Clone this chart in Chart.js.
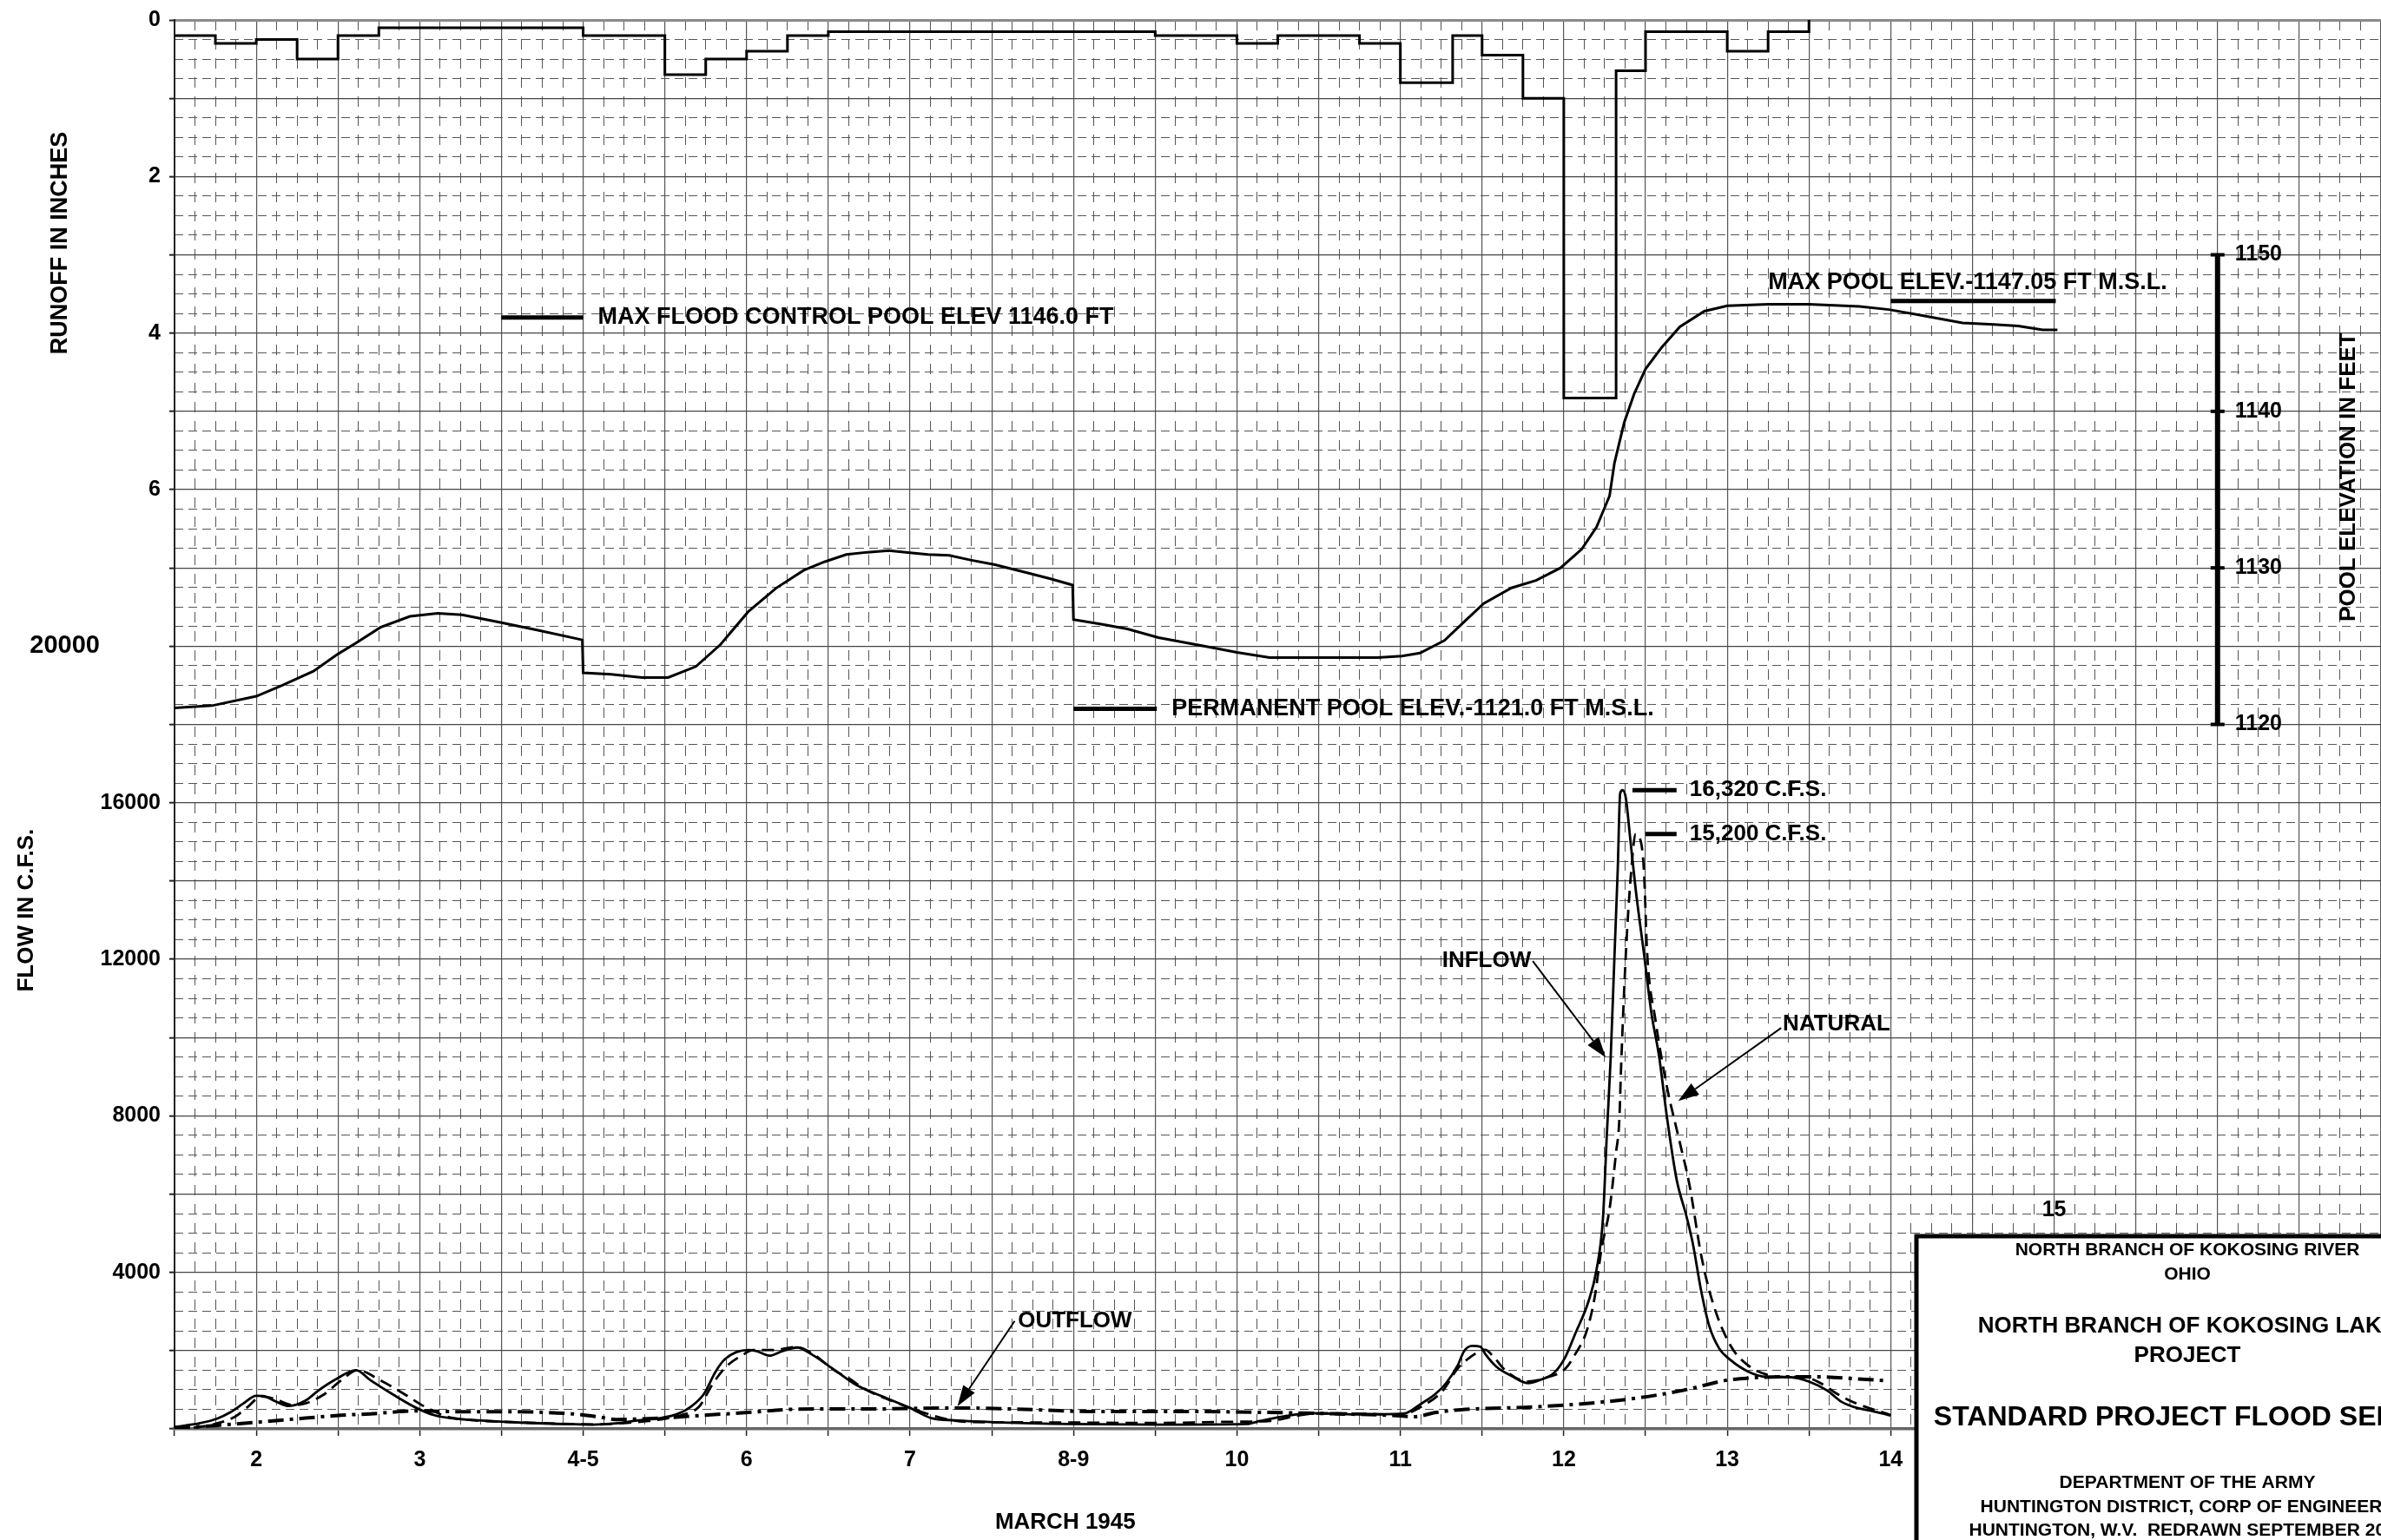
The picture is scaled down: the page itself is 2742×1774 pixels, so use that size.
<!DOCTYPE html>
<html>
<head>
<meta charset="utf-8">
<script src="https://cdn.jsdelivr.net/npm/chart.js@4.4.0/dist/chart.umd.min.js"></script>
<style>
  html, body { margin: 0; padding: 0; background: #fff; }
  canvas { display: block; }
</style>
</head>
<body>
<canvas id="grafico" width="2742" height="1774"></canvas>
<script>
const FUENTE = '"Liberation Sans", Arial, sans-serif';

// Eje x: dias de marzo 1945 (un indice por etiqueta)
const dias = ['2', '3', '4-5', '6', '7', '8-9', '10', '11', '12', '13', '14'];
const diaExtra = '15';

// Etiquetas del eje izquierdo (escorrentia arriba, caudal abajo)
const etiquetasEscorrentia = [0, 2, 4, 6];
const etiquetasFlujo = [20000, 16000, 12000, 8000, 4000];
const cotasEmbalse = [1120, 1130, 1140, 1150];

// Escorrentia en pulgadas (escalonada, cada valor vale hasta el siguiente x)
const escorrentiaX = [-0.5, -0.25, 0, 0.25, 0.5, 0.75, 2.0, 2.5, 2.75, 3.0, 3.25, 3.5, 5.5, 6.0, 6.25, 6.75, 7.0, 7.32, 7.5, 7.75, 8.0, 8.32, 8.5, 9.0, 9.25, 9.5];
const escorrentiaY = [0.2, 0.3, 0.25, 0.5, 0.2, 0.1, 0.2, 0.7, 0.5, 0.4, 0.2, 0.15, 0.2, 0.3, 0.2, 0.3, 0.8, 0.2, 0.45, 1.0, 4.83, 0.65, 0.15, 0.4, 0.15, 0];

// Elevacion del embalse (pies)
const embalseX = [-0.5, -0.27, 0.0, 0.16, 0.35, 0.5, 0.61, 0.76, 0.94, 1.11, 1.26, 1.5, 1.73, 1.995, 2.0, 2.17, 2.36, 2.52, 2.69, 2.84, 3.01, 3.18, 3.35, 3.48, 3.61, 3.74, 3.87, 4.0, 4.11, 4.24, 4.37, 4.52, 4.71, 4.86, 4.995, 5.0, 5.17, 5.33, 5.52, 5.82, 6.0, 6.2, 6.45, 6.86, 7.01, 7.12, 7.27, 7.38, 7.51, 7.68, 7.83, 7.98, 8.11, 8.2, 8.28, 8.31, 8.37, 8.43, 8.5, 8.6, 8.71, 8.86, 9.0, 9.25, 9.5, 9.81, 9.99, 10.18, 10.44, 10.63, 10.78, 10.93, 11.02];
const embalseY = [1121.05, 1121.2, 1121.8, 1122.5, 1123.4, 1124.5, 1125.2, 1126.2, 1126.9, 1127.1, 1127.0, 1126.5, 1126.0, 1125.4, 1123.3, 1123.2, 1123.0, 1123.0, 1123.7, 1125.1, 1127.2, 1128.7, 1129.85, 1130.4, 1130.85, 1131.0, 1131.1, 1130.96, 1130.85, 1130.8, 1130.5, 1130.2, 1129.7, 1129.3, 1128.9, 1126.7, 1126.4, 1126.1, 1125.55, 1124.96, 1124.6, 1124.27, 1124.27, 1124.27, 1124.37, 1124.56, 1125.36, 1126.45, 1127.73, 1128.72, 1129.2, 1130.0, 1131.2, 1132.6, 1134.6, 1136.7, 1139.3, 1141.1, 1142.7, 1144.1, 1145.4, 1146.4, 1146.74, 1146.84, 1146.84, 1146.7, 1146.5, 1146.15, 1145.65, 1145.55, 1145.45, 1145.2, 1145.2];

// Caudal de entrada (c.f.s.)
const entradaX = [-0.5, -0.35, -0.24, -0.16, -0.08, 0.0, 0.04, 0.12, 0.2, 0.3, 0.38, 0.49, 0.61, 0.7, 0.84, 0.98, 1.09, 1.19, 1.38, 1.65, 1.93, 2.06, 2.2, 2.33, 2.47, 2.58, 2.66, 2.74, 2.81, 2.87, 3.01, 3.06, 3.14, 3.22, 3.31, 3.4, 3.54, 3.67, 3.83, 4.0, 4.13, 4.27, 4.56, 4.97, 5.51, 6.06, 6.14, 6.27, 6.46, 6.73, 7.02, 7.13, 7.21, 7.28, 7.35, 7.39, 7.44, 7.49, 7.52, 7.59, 7.68, 7.78, 7.85, 7.94, 8.01, 8.07, 8.15, 8.2, 8.24, 8.263, 8.287, 8.31, 8.33, 8.345, 8.36, 8.38, 8.405, 8.44, 8.49, 8.536, 8.583, 8.63, 8.69, 8.75, 8.79, 8.84, 8.89, 8.95, 9.02, 9.13, 9.24, 9.39, 9.5, 9.61, 9.7, 9.79, 9.88, 10.0];
const entradaY = [50, 140, 260, 420, 645, 845, 840, 700, 585, 720, 980, 1275, 1500, 1240, 870, 535, 350, 275, 215, 155, 120, 110, 140, 215, 275, 385, 570, 900, 1460, 1790, 2015, 1990, 1870, 1990, 2080, 1900, 1500, 1125, 830, 535, 275, 220, 165, 125, 110, 125, 200, 310, 400, 370, 390, 650, 875, 1170, 1615, 1985, 2120, 2100, 1910, 1580, 1355, 1170, 1245, 1430, 1840, 2430, 3245, 4060, 5400, 7490, 9490, 12075, 14290, 16240, 16320, 16110, 15140, 13780, 12160, 10630, 9520, 8000, 6380, 5440, 4725, 3540, 2630, 2060, 1760, 1460, 1330, 1320, 1210, 985, 690, 540, 465, 340];

// Caudal natural (c.f.s.)
const naturalX = [-0.5, -0.35, -0.24, -0.13, -0.05, 0.03, 0.11, 0.22, 0.3, 0.41, 0.52, 0.62, 0.76, 0.9, 1.03, 1.17, 1.3, 1.6, 1.93, 2.1, 2.25, 2.4, 2.5, 2.6, 2.71, 2.79, 2.87, 2.98, 3.04, 3.17, 3.3, 3.41, 3.48, 3.55, 3.62, 3.71, 3.78, 3.91, 4.08, 4.24, 4.35, 4.84, 5.51, 5.92, 6.19, 6.41, 6.6, 7.0, 7.15, 7.26, 7.35, 7.43, 7.52, 7.57, 7.65, 7.78, 7.9, 8.01, 8.07, 8.14, 8.19, 8.23, 8.28, 8.32, 8.34, 8.35, 8.38, 8.41, 8.44, 8.46, 8.49, 8.51, 8.56, 8.63, 8.7, 8.77, 8.84, 8.91, 9.02, 9.13, 9.24, 9.35, 9.46, 9.57, 9.68, 9.79, 10.0];
const naturalY = [0, 50, 140, 310, 570, 830, 770, 610, 650, 870, 1240, 1500, 1240, 905, 570, 310, 230, 170, 125, 115, 150, 200, 260, 350, 570, 1130, 1570, 1900, 2015, 2015, 2090, 1905, 1680, 1460, 1310, 1050, 900, 680, 420, 235, 180, 165, 150, 180, 200, 365, 400, 365, 620, 980, 1540, 1840, 2020, 1840, 1465, 1210, 1320, 1540, 1910, 2500, 3390, 4580, 5620, 7070, 7910, 9180, 12160, 14120, 15200, 15140, 14290, 12160, 10470, 8760, 7490, 6210, 4450, 3245, 2130, 1615, 1390, 1330, 1330, 1170, 875, 650, 355];

// Caudal de salida (c.f.s.)
const salidaX = [-0.5, -0.24, 0.03, 0.3, 0.52, 0.7, 0.98, 1.25, 1.52, 1.93, 2.09, 2.2, 2.33, 2.47, 2.74, 3.01, 3.28, 3.55, 3.75, 4.29, 4.7, 5.1, 5.65, 6.19, 6.6, 7.0, 7.08, 7.22, 7.37, 7.81, 8.14, 8.47, 8.73, 9.0, 9.13, 9.35, 9.57, 9.79, 9.97];
const salidaY = [15, 90, 180, 275, 350, 385, 460, 440, 440, 385, 310, 240, 250, 275, 350, 420, 500, 510, 510, 535, 500, 445, 445, 420, 385, 335, 310, 420, 490, 560, 650, 800, 985, 1245, 1300, 1330, 1330, 1280, 1230];

const FLUJO_MAX = 36000;
const pares = (xs, ys) => xs.map((v, i) => ({ x: v, y: ys[i] }));
const esMedio = v => Math.abs(v * 2 - Math.round(v * 2)) < 1e-6;
const fuente = t => `bold ${t}px ${FUENTE}`;

function texto(ctx, str, px, py, tam, alinear = 'left', rot = 0) {
    ctx.save();
    ctx.translate(px, py);
    if (rot) ctx.rotate(rot);
    ctx.font = fuente(tam);
    ctx.textAlign = alinear;
    ctx.textBaseline = 'middle';
    ctx.fillText(str, 0, 0);
    ctx.restore();
}

function trazo(ctx, x1, y1, x2, y2, ancho) {
    ctx.beginPath();
    ctx.moveTo(x1, y1);
    ctx.lineTo(x2, y2);
    ctx.lineWidth = ancho;
    ctx.stroke();
}

function flecha(ctx, x1, y1, x2, y2) {
    const ang = Math.atan2(y2 - y1, x2 - x1);
    const largo = 24, ancho = 8;
    const bx = x2 - largo * Math.cos(ang), by = y2 - largo * Math.sin(ang);
    trazo(ctx, x1, y1, bx, by, 2);
    ctx.beginPath();
    ctx.moveTo(x2, y2);
    ctx.lineTo(bx + ancho * Math.sin(ang), by - ancho * Math.cos(ang));
    ctx.lineTo(bx - ancho * Math.sin(ang), by + ancho * Math.cos(ang));
    ctx.closePath();
    ctx.fill();
}

// Anotaciones, escala del embalse, titulos y caja de rotulo
const anotaciones = {
    id: 'anotaciones',
    afterDraw(chart) {
        const { ctx } = chart;
        const { x, y, yPool } = chart.scales;
        const px = v => x.getPixelForValue(v);
        ctx.save();
        ctx.fillStyle = '#000';
        ctx.strokeStyle = '#000';

        // niveles del embalse
        trazo(ctx, px(1.5), yPool.getPixelForValue(1146), px(2.0), yPool.getPixelForValue(1146), 5);
        texto(ctx, 'MAX FLOOD CONTROL POOL ELEV 1146.0 FT', px(2.09), yPool.getPixelForValue(1146), 27);
        trazo(ctx, px(5.0), yPool.getPixelForValue(1121), px(5.51), yPool.getPixelForValue(1121), 5);
        texto(ctx, 'PERMANENT POOL ELEV.-1121.0 FT M.S.L.', px(5.6), yPool.getPixelForValue(1121), 27);
        trazo(ctx, px(10.0), yPool.getPixelForValue(1147.05), px(11.01), yPool.getPixelForValue(1147.05), 5);
        texto(ctx, 'MAX POOL ELEV.-1147.05 FT M.S.L.', px(9.25), yPool.getPixelForValue(1148.25), 27);

        // picos
        trazo(ctx, px(8.42), y.getPixelForValue(16320), px(8.69), y.getPixelForValue(16320), 5);
        texto(ctx, '16,320 C.F.S.', px(8.77), y.getPixelForValue(16320), 26);
        trazo(ctx, px(8.5), y.getPixelForValue(15200), px(8.69), y.getPixelForValue(15200), 5);
        texto(ctx, '15,200 C.F.S.', px(8.77), y.getPixelForValue(15200), 26);

        // flechas
        texto(ctx, 'INFLOW', px(7.8), y.getPixelForValue(11955), 26, 'right');
        flecha(ctx, px(7.81), y.getPixelForValue(11955), px(8.257), y.getPixelForValue(9488));
        texto(ctx, 'NATURAL', px(9.34), y.getPixelForValue(10333), 26);
        flecha(ctx, px(9.33), y.getPixelForValue(10244), px(8.70), y.getPixelForValue(8377));
        texto(ctx, 'OUTFLOW', px(4.66), y.getPixelForValue(2755), 26);
        flecha(ctx, px(4.64), y.getPixelForValue(2755), px(4.29), y.getPixelForValue(578));

        // escala de elevacion del embalse
        const xe = px(12.0);
        trazo(ctx, xe, yPool.getPixelForValue(1120), xe, yPool.getPixelForValue(1150), 6);
        cotasEmbalse.forEach(c => {
            const ye = yPool.getPixelForValue(c);
            trazo(ctx, xe - 8, ye, xe + 8, ye, 4);
            texto(ctx, String(c), xe + 20, ye, 25);
        });
        texto(ctx, 'POOL ELEVATION IN FEET', 2705, yPool.getPixelForValue(1135.8), 26, 'center', -Math.PI / 2);

        // titulos de ejes
        texto(ctx, 'RUNOFF IN INCHES', 70, 280, 27, 'center', -Math.PI / 2);
        texto(ctx, 'FLOW IN C.F.S.', 31, y.getPixelForValue(13250), 26, 'center', -Math.PI / 2);
        texto(ctx, 'MARCH 1945', px(4.95), 1754, 26, 'center');
        texto(ctx, String(etiquetasFlujo[0]), 115, y.getPixelForValue(etiquetasFlujo[0]), 29, 'right');
        texto(ctx, diaExtra, px(dias.length), y.getPixelForValue(5577), 25, 'center');

        // caja de rotulo
        ctx.fillStyle = '#fff';
        ctx.fillRect(2207, 1424, 600, 400);
        ctx.lineWidth = 5;
        ctx.strokeRect(2207, 1424, 600, 400);
        ctx.fillStyle = '#000';
        const cx = 2519;
        texto(ctx, 'NORTH BRANCH OF KOKOSING RIVER', cx, 1440, 21, 'center');
        texto(ctx, 'OHIO', cx, 1468, 21, 'center');
        texto(ctx, 'NORTH BRANCH OF KOKOSING LAKE', cx, 1528, 26, 'center');
        texto(ctx, 'PROJECT', cx, 1562, 26, 'center');
        texto(ctx, 'STANDARD PROJECT FLOOD SERIES', cx, 1633, 32, 'center');
        texto(ctx, 'DEPARTMENT OF THE ARMY', cx, 1708, 21, 'center');
        texto(ctx, 'HUNTINGTON DISTRICT, CORP OF ENGINEERS', cx, 1736, 21, 'center');
        texto(ctx, 'HUNTINGTON, W.V.  REDRAWN SEPTEMBER 2002', cx, 1763, 21, 'center');
        ctx.restore();
    }
};

const linea = (datos, eje, extra) => Object.assign({
    data: datos, yAxisID: eje, borderColor: '#000', borderWidth: 3,
    pointRadius: 0, fill: false
}, extra);

new Chart(document.getElementById('grafico'), {
    type: 'line',
    data: {
        datasets: [
            linea(pares(escorrentiaX, escorrentiaY), 'yRunoff', { label: 'Runoff', stepped: 'before' }),
            linea(pares(embalseX, embalseY), 'yPool', { label: 'Pool elevation', tension: 0 }),
            linea(pares(entradaX, entradaY), 'y', { label: 'Inflow', cubicInterpolationMode: 'monotone', borderWidth: 2.8 }),
            linea(pares(naturalX, naturalY), 'y', { label: 'Natural', cubicInterpolationMode: 'monotone', borderWidth: 2.8, borderDash: [14, 8] }),
            linea(pares(salidaX, salidaY), 'y', { label: 'Outflow', cubicInterpolationMode: 'monotone', borderWidth: 4, borderDash: [18, 7, 4, 7] })
        ]
    },
    options: {
        responsive: false,
        animation: false,
        devicePixelRatio: 1,
        layout: { padding: { top: 23, right: 0, left: 0, bottom: 0 }, autoPadding: false },
        plugins: { legend: { display: false }, tooltip: { enabled: false } },
        scales: {
            x: {
                type: 'linear', position: 'bottom', min: -0.5, max: 13,
                ticks: {
                    stepSize: 0.5, autoSkip: false, maxRotation: 0, padding: 13, color: '#000',
                    font: { family: FUENTE, size: 25, weight: 'bold' },
                    callback: v => {
                        const i = Math.round(v);
                        return (Math.abs(v - i) < 1e-6 && i >= 0 && i < dias.length) ? dias[i] : '';
                    }
                },
                grid: { color: '#555', lineWidth: 1.2, tickLength: 8, tickColor: '#222', tickWidth: 1.5 },
                border: { display: true, color: '#666', width: 3.5 },
                afterFit: s => { s.height = 128; s.paddingLeft = 0; s.paddingRight = 0; }
            },
            xMinor: {
                type: 'linear', position: 'bottom', min: -0.5, max: 13,
                ticks: { display: false, stepSize: 0.125 },
                grid: { drawTicks: false, color: '#555', lineWidth: c => esMedio(c.tick.value) ? 0 : 1 },
                border: { display: false, dash: [12, 10] },
                afterFit: s => { s.height = 0; s.paddingLeft = 0; s.paddingRight = 0; }
            },
            y: {
                type: 'linear', position: 'left', min: 0, max: FLUJO_MAX,
                ticks: {
                    stepSize: 2000, autoSkip: false, padding: 10, color: '#000',
                    font: { family: FUENTE, size: 25, weight: 'bold' },
                    callback: v => {
                        const r = (FLUJO_MAX - v) / 2000;
                        if (etiquetasEscorrentia.includes(r)) return String(r);
                        if (etiquetasFlujo.includes(v) && v !== etiquetasFlujo[0]) return String(v);
                        return '';
                    }
                },
                grid: {
                    color: c => c.tick.value === FLUJO_MAX ? '#8a8a8a' : '#444',
                    lineWidth: c => c.tick.value === FLUJO_MAX ? 3 : 1.3,
                    tickLength: 6, tickColor: '#222', tickWidth: 2
                },
                border: { display: true, color: '#222', width: 2 },
                afterFit: s => { s.width = 201; s.paddingTop = 0; s.paddingBottom = 0; }
            },
            yMinor: {
                type: 'linear', position: 'left', min: 0, max: FLUJO_MAX,
                ticks: { display: false, stepSize: 500 },
                grid: { drawTicks: false, color: '#555', lineWidth: c => c.tick.value % 2000 === 0 ? 0 : 1 },
                border: { display: false, dash: [10, 6] },
                afterFit: s => { s.width = 0; s.paddingTop = 0; s.paddingBottom = 0; }
            },
            yRunoff: { type: 'linear', display: false, reverse: true, min: 0, max: 18 },
            yPool: { type: 'linear', display: false, min: 1075, max: 1165 }
        }
    },
    plugins: [anotaciones]
});
</script>
</body>
</html>
